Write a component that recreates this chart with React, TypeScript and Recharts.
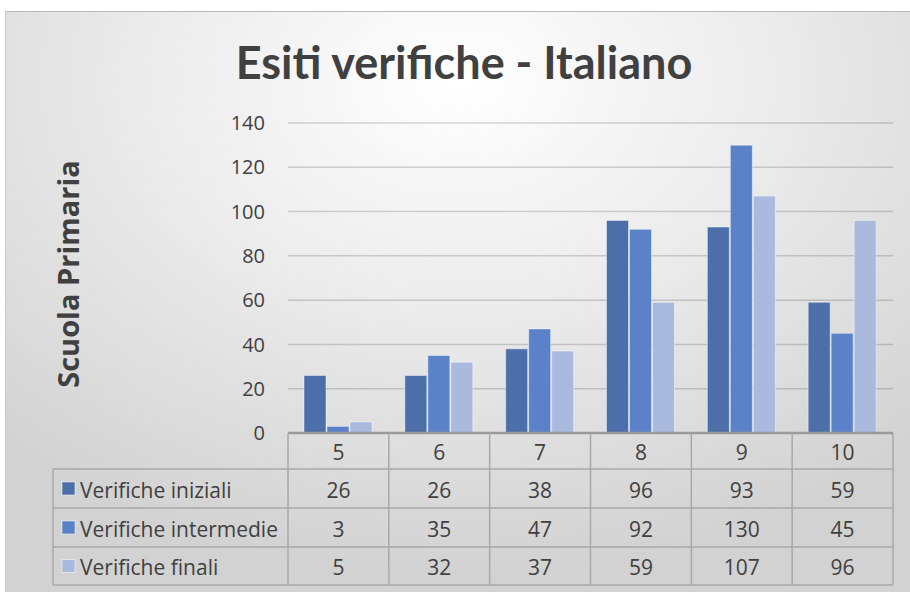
import React from 'react';
import { BarChart, Bar, XAxis, YAxis, CartesianGrid } from 'recharts';

const categories = ['5', '6', '7', '8', '9', '10'];
const iniziali = [26, 26, 38, 96, 93, 59];
const intermedie = [3, 35, 47, 92, 130, 45];
const finali = [5, 32, 37, 59, 107, 96];
const seriesNames = ['Verifiche iniziali', 'Verifiche intermedie', 'Verifiche finali'];
const seriesKeys = ['iniziali', 'intermedie', 'finali'];
const seriesValues = [iniziali, intermedie, finali];
const seriesColors = ['#4d6fa9', '#5b82c9', '#aab9de'];
const yTicks = [0, 20, 40, 60, 80, 100, 120, 140];
const title = 'Esiti verifiche - Italiano';
const yLabel = 'Scuola Primaria';

const data = categories.map((c, i) => ({
  cat: c,
  iniziali: iniziali[i],
  intermedie: intermedie[i],
  finali: finali[i],
}));

const W = 910;
const H = 592;
const PLOT_L = 288;
const PLOT_R = 893;
const PLOT_T = 123;
const PLOT_B = 433;
const ROWS = [433, 469, 508, 547, 585];
const LEG_L = 53;
const FONT = '"Open Sans", sans-serif';
const TITLE_FONT = 'Lato, sans-serif';
const TEXT = '#404040';
const BORDER = '#a8a8a8';

const TableTick = (props: any) => {
  const { x, payload, index } = props;
  const half = (PLOT_R - PLOT_L) / categories.length / 2;
  const i = categories.indexOf(String(payload.value));
  const cells = [String(payload.value), ...seriesValues.map((s) => String(s[i]))];
  return (
    <g>
      <line x1={x - half} x2={x - half} y1={ROWS[0]} y2={ROWS[4]} stroke={BORDER} strokeWidth={1.5} />
      {index === categories.length - 1 && (
        <line x1={x + half} x2={x + half} y1={ROWS[0]} y2={ROWS[4]} stroke={BORDER} strokeWidth={1.5} />
      )}
      {ROWS.slice(1).map((ry, k) => (
        <line key={k} x1={x - half} x2={x + half} y1={ry} y2={ry} stroke={BORDER} strokeWidth={1.5} />
      ))}
      {cells.map((t, k) => (
        <text
          key={k}
          x={x}
          y={(ROWS[k] + ROWS[k + 1]) / 2 + 1}
          textAnchor="middle"
          dominantBaseline="central"
          fill={TEXT}
          fontSize={21}
          fontFamily={FONT}
        >
          {t}
        </text>
      ))}
    </g>
  );
};

export default function App() {
  return (
    <div style={{ position: 'fixed', left: 0, top: 0, width: W, height: H, background: '#fff', overflow: 'hidden' }}>
      <div
        style={{
          position: 'absolute',
          left: 5,
          top: 11,
          width: W - 5,
          height: H - 11,
          background: 'radial-gradient(ellipse 75% 85% at 50% 12%, #ffffff 0%, #ececec 45%, #d2d2d2 100%)',
          borderTop: '1px solid #b8b8b8',
          borderLeft: '1px solid #c8c8c8',
          boxSizing: 'border-box',
        }}
      />
      <div
        style={{
          position: 'absolute',
          left: 0,
          width: W,
          top: 34,
          textAlign: 'center',
          fontFamily: TITLE_FONT,
          fontWeight: 700,
          fontSize: 45,
          color: TEXT,
          lineHeight: '56px',
          paddingLeft: 18,
          boxSizing: 'border-box',
        }}
      >
        {title}
      </div>
      <div
        style={{
          position: 'absolute',
          left: 67,
          top: 274,
          transform: 'translate(-50%, -50%) rotate(-90deg)',
          fontFamily: FONT,
          fontWeight: 700,
          fontSize: 29,
          color: TEXT,
          whiteSpace: 'nowrap',
        }}
      >
        {yLabel}
      </div>
      <div style={{ position: 'absolute', left: 0, top: 0 }}>
        <BarChart
          width={W}
          height={H}
          data={data}
          margin={{ top: PLOT_T, right: W - PLOT_R, bottom: 0, left: PLOT_L - 60 }}
          barSize={22}
          barGap={1}
        >
          <CartesianGrid vertical={false} stroke="#000" strokeOpacity={0.16} strokeWidth={1.5} />
          <XAxis
            dataKey="cat"
            height={H - PLOT_B}
            interval={0}
            tickLine={false}
            axisLine={{ stroke: '#9a9a9a', strokeWidth: 2.5 }}
            tick={<TableTick />}
          />
          <YAxis
            width={60}
            domain={[0, 140]}
            ticks={yTicks}
            tickSize={0}
            tickMargin={23}
            axisLine={false}
            tickLine={false}
            tick={{ fill: TEXT, fontSize: 20, fontFamily: FONT }}
          />
          {seriesKeys.map((k, i) => (
            <Bar
              key={k}
              dataKey={k}
              fill={seriesColors[i]}
              stroke="#ffffff"
              strokeOpacity={0.45}
              strokeWidth={1}
              isAnimationActive={false}
            />
          ))}
        </BarChart>
      </div>
      <svg style={{ position: 'absolute', left: 0, top: 0 }} width={W} height={H}>
        <line x1={LEG_L} x2={LEG_L} y1={ROWS[1]} y2={ROWS[4]} stroke={BORDER} strokeWidth={1.5} />
        {ROWS.slice(1).map((ry, k) => (
          <line key={k} x1={LEG_L} x2={PLOT_L} y1={ry} y2={ry} stroke={BORDER} strokeWidth={1.5} />
        ))}
        {seriesNames.map((n, k) => {
          const cy = (ROWS[k + 1] + ROWS[k + 2]) / 2;
          return (
            <g key={n}>
              <rect x={62} y={cy - 6.5} width={13} height={13} fill={seriesColors[k]} stroke="#ffffff" strokeOpacity={0.5} strokeWidth={1} />
              <text x={80} y={cy + 1} dominantBaseline="central" fill={TEXT} fontSize={21} fontFamily={FONT}>
                {n}
              </text>
            </g>
          );
        })}
      </svg>
    </div>
  );
}
